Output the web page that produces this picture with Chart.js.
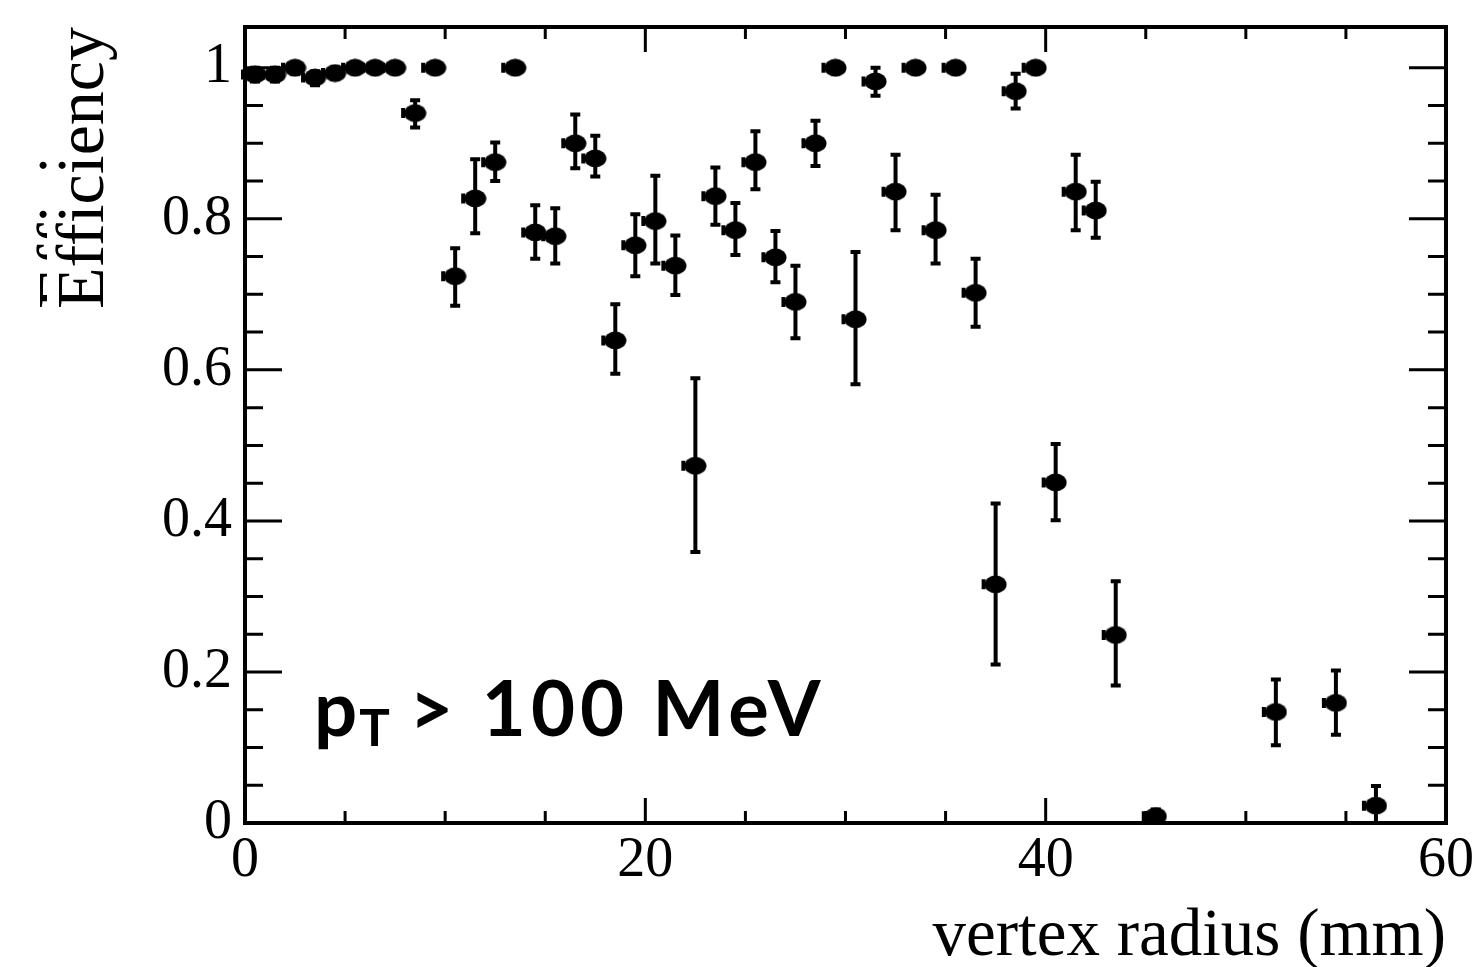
<!DOCTYPE html>
<html><head><meta charset="utf-8">
<script src="https://cdn.jsdelivr.net/npm/chart.js@4.4.0/dist/chart.umd.min.js"></script>
<style>html,body{margin:0;padding:0;background:#fff;}#wrap{width:1474px;height:967px;position:relative;}</style>
</head><body><div id="wrap"><canvas id="c"></canvas></div>
<script>
// ---- data ----
const radius = [0.5,1.5,2.5,3.5,4.5,5.5,6.5,7.5,8.5,9.5,10.5,11.5,12.5,13.5,14.5,15.5,16.5,17.5,18.5,19.5,
  20.5,21.5,22.5,23.5,24.5,25.5,26.5,27.5,28.5,29.5,30.5,31.5,32.5,33.5,34.5,35.5,36.5,37.5,38.5,39.5,
  40.5,41.5,42.5,43.5,45.5,51.5,54.5,56.5];
const efficiency = [0.991,0.991,1.0,0.987,0.993,1.0,1.0,1.0,0.940,1.0,0.724,0.827,0.875,1.0,0.782,0.777,0.900,0.880,0.639,0.765,
  0.797,0.738,0.473,0.830,0.785,0.875,0.749,0.690,0.900,1.0,0.667,0.982,0.836,1.0,0.785,1.0,0.702,0.316,0.969,1.0,
  0.451,0.836,0.811,0.249,0.009,0.147,0.159,0.023];
const efficiencyUpper = [1.0,1.0,1.0,0.995,1.0,1.0,1.0,1.0,0.957,1.0,0.761,0.879,0.901,1.0,0.818,0.814,0.938,0.910,0.687,0.806,
  0.857,0.778,0.589,0.868,0.821,0.916,0.784,0.738,0.930,1.0,0.756,1.0,0.885,1.0,0.832,1.0,0.747,0.423,0.992,1.0,
  0.502,0.885,0.849,0.320,0.018,0.190,0.202,0.049];
const efficiencyLower = [0.982,0.982,0.992,0.977,0.985,0.993,0.993,0.993,0.921,0.993,0.685,0.781,0.850,0.993,0.747,0.741,0.867,0.856,0.595,0.724,
  0.741,0.699,0.359,0.792,0.752,0.839,0.716,0.642,0.870,0.993,0.581,0.963,0.785,0.993,0.741,0.993,0.657,0.210,0.946,0.993,
  0.401,0.785,0.775,0.182,0.0,0.103,0.117,0.0];
const radiusHalfWidth = 0.5;

const xTickValues = [0,20,40,60];
const xTickLabels = ['0','20','40','60'];
const xMinorTickValues = [5,10,15,25,30,35,45,50,55];
const yTickValues = [0,0.2,0.4,0.6,0.8,1];
const yTickLabels = ['0','0.2','0.4','0.6','0.8','1'];
const yMinorTickValues = [0.05,0.1,0.15,0.25,0.3,0.35,0.45,0.5,0.55,0.65,0.7,0.75,0.85,0.9,0.95];

const xTitle = 'vertex radius (mm)';
const yTitle = 'Efficiency';
const cutLabelMain = 'p';
const cutLabelSub = 'T';
const cutLabelRest = ' > 100 MeV';
const cutLabelAnchor = {x: 3.45, y: 0.115};

// ---- marker image (slightly flattened filled dot) ----
const marker = document.createElement('canvas');
marker.width = 23; marker.height = 19;
(function(){const g = marker.getContext('2d'); g.fillStyle = '#000'; g.beginPath(); g.ellipse(11.5,9.5,11,9,0,0,Math.PI*2); g.fill();})();

const serif = 'Liberation Serif';

const framePlugin = {
  id: 'frame',
  afterDatasetsDraw(chart) {
    const {ctx, chartArea: a, scales: {x, y}} = chart;
    ctx.save();
    ctx.strokeStyle = '#000';
    ctx.lineWidth = 3;
    ctx.beginPath();
    const tick = (px, py, dx, dy) => { ctx.moveTo(px, py); ctx.lineTo(px + dx, py + dy); };
    xTickValues.forEach(v => { const p = x.getPixelForValue(v); tick(p, a.bottom, 0, -25); tick(p, a.top, 0, 25); });
    xMinorTickValues.forEach(v => { const p = x.getPixelForValue(v); tick(p, a.bottom, 0, -12); tick(p, a.top, 0, 12); });
    yTickValues.forEach(v => { const p = y.getPixelForValue(v); tick(a.left, p, 37, 0); tick(a.right, p, -37, 0); });
    yMinorTickValues.forEach(v => { const p = y.getPixelForValue(v); tick(a.left, p, 18, 0); tick(a.right, p, -18, 0); });
    ctx.stroke();
    ctx.lineWidth = 4;
    ctx.strokeRect(a.left, a.top, a.right - a.left, a.bottom - a.top);
    ctx.restore();
  }
};

const errorBarPlugin = {
  id: 'errorbars',
  beforeDatasetsDraw(chart) {
    const {ctx, scales: {x, y}} = chart;
    ctx.save();
    ctx.strokeStyle = '#000';
    ctx.lineWidth = 4;
    ctx.beginPath();
    radius.forEach((r, i) => {
      const px = x.getPixelForValue(r);
      const py = y.getPixelForValue(efficiency[i]);
      const yt = y.getPixelForValue(efficiencyUpper[i]);
      const yb = y.getPixelForValue(efficiencyLower[i]);
      const xl = x.getPixelForValue(r - radiusHalfWidth);
      const xr = x.getPixelForValue(r + radiusHalfWidth);
      ctx.moveTo(px, yt); ctx.lineTo(px, yb);
      ctx.moveTo(px - 5, yt); ctx.lineTo(px + 5, yt);
      ctx.moveTo(px - 5, yb); ctx.lineTo(px + 5, yb);
      ctx.moveTo(xl - 2, py); ctx.lineTo(xr, py);
      ctx.moveTo(xl - 2, py - 5); ctx.lineTo(xl - 2, py + 5);
    });
    ctx.stroke();
    ctx.restore();
  }
};

const textPlugin = {
  id: 'texts',
  afterDraw(chart) {
    const {ctx, scales: {x, y}} = chart;
    ctx.save();
    // cut label
    const x0 = x.getPixelForValue(cutLabelAnchor.x);
    const base = y.getPixelForValue(cutLabelAnchor.y);
    ctx.fillStyle = '#000';
    ctx.textBaseline = 'alphabetic';
    ctx.textAlign = 'left';
    ctx.letterSpacing = '4px';
    ctx.font = 'bold 76px Lato';
    ctx.fillText(cutLabelMain, x0, base);
    const wp = ctx.measureText(cutLabelMain).width;
    ctx.font = 'bold 51px Lato';
    ctx.fillText(cutLabelSub, x0 + wp - 2, base + 10);
    const wt = ctx.measureText(cutLabelSub).width;
    ctx.font = 'bold 76px Lato';
    ctx.letterSpacing = '5px';
    ctx.fillText(cutLabelRest, x0 + wp + wt - 10, base);
    ctx.letterSpacing = '0px';
    // remnant of a duplicated y-title at the far left
    ctx.beginPath();
    ctx.rect(0, 150, 47, 170);
    ctx.clip();
    ctx.translate(y.left + 44 + 41 - 19, chart.chartArea.top);
    ctx.rotate(-Math.PI / 2);
    ctx.font = '68px ' + serif;
    ctx.textAlign = 'right';
    ctx.textBaseline = 'middle';
    ctx.fillText(yTitle, 0, 0);
    ctx.restore();
  }
};

new Chart(document.getElementById('c'), {
  type: 'scatter',
  data: {
    datasets: [{
      data: radius.map((r, i) => ({x: r, y: efficiency[i]})),
      pointStyle: marker,
      pointRadius: 9,
      backgroundColor: '#000',
      borderColor: '#000'
    }]
  },
  options: {
    responsive: true,
    maintainAspectRatio: false,
    animation: false,
    layout: {padding: {top: 27, right: 28, left: 0, bottom: 0}},
    plugins: {legend: {display: false}, tooltip: {enabled: false}},
    scales: {
      x: {
        type: 'linear', min: 0, max: 60,
        border: {display: false},
        grid: {display: false, drawTicks: false},
        afterBuildTicks: s => { s.ticks = xTickValues.map(v => ({value: v})); },
        ticks: {padding: 5, color: '#000', maxRotation: 0, autoSkip: false,
          font: {family: serif, size: 56},
          callback: (v, i) => xTickLabels[i]},
        title: {display: true, text: xTitle, align: 'end', color: '#000',
          font: {family: serif, size: 67, lineHeight: 0.85}, padding: {top: 0, bottom: 1}},
        afterFit: s => { s.height = 144; s.paddingLeft = 0; s.paddingRight = 0; }
      },
      y: {
        type: 'linear', min: 0, max: 1.054,
        border: {display: false},
        grid: {display: false, drawTicks: false},
        afterBuildTicks: s => { s.ticks = yTickValues.map(v => ({value: v})); },
        ticks: {padding: 13, color: '#000', autoSkip: false,
          font: {family: serif, size: 56},
          callback: (v, i) => yTickLabels[i]},
        title: {display: true, text: yTitle, align: 'end', color: '#000',
          font: {family: serif, size: 68, lineHeight: 1.2}, padding: {top: 44, bottom: 0}},
        afterFit: s => { s.width = 245; s.paddingTop = 0; s.paddingBottom = 0; }
      }
    }
  },
  plugins: [errorBarPlugin, framePlugin, textPlugin]
});
</script>
</body></html>
